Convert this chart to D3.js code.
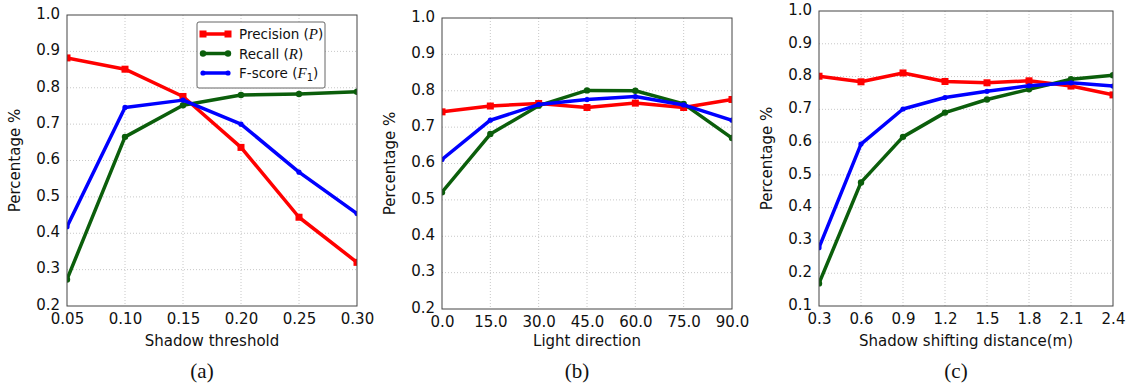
<!DOCTYPE html>
<html>
<head>
<meta charset="utf-8">
<script src="https://cdn.jsdelivr.net/npm/d3@7"></script>
<style>
  body { margin: 0; background: #fff; }
  svg { display: block; }
  .tick text { font-family: "DejaVu Sans", sans-serif; }
</style>
</head>
<body>
<svg id="chart" width="1128" height="389"></svg>
<script>
// (a) shadow threshold
var thresholds = [0.05, 0.10, 0.15, 0.20, 0.25, 0.30]
var thresholdLabels = ["0.05", "0.10", "0.15", "0.20", "0.25", "0.30"]
var precisionA = [0.882, 0.851, 0.776, 0.636, 0.444, 0.320]
var recallA = [0.273, 0.665, 0.752, 0.780, 0.783, 0.789]
var fscoreA = [0.418, 0.746, 0.766, 0.700, 0.568, 0.454]

// (b) light direction
var directions = [0, 15, 30, 45, 60, 75, 90]
var directionLabels = ["0.0", "15.0", "30.0", "45.0", "60.0", "75.0", "90.0"]
var precisionB = [0.742, 0.758, 0.765, 0.754, 0.766, 0.754, 0.776]
var recallB = [0.521, 0.681, 0.759, 0.801, 0.800, 0.764, 0.670]
var fscoreB = [0.611, 0.719, 0.762, 0.776, 0.784, 0.761, 0.719]

// (c) shadow shifting distance
var distances = [0.3, 0.6, 0.9, 1.2, 1.5, 1.8, 2.1, 2.4]
var distanceLabels = ["0.3", "0.6", "0.9", "1.2", "1.5", "1.8", "2.1", "2.4"]
var precisionC = [0.801, 0.784, 0.811, 0.785, 0.781, 0.787, 0.771, 0.744]
var recallC = [0.169, 0.477, 0.616, 0.690, 0.730, 0.761, 0.792, 0.804]
var fscoreC = [0.278, 0.594, 0.701, 0.736, 0.755, 0.772, 0.781, 0.771]

var yTicksAB = [0.2, 0.3, 0.4, 0.5, 0.6, 0.7, 0.8, 0.9, 1.0]
var yTicksC = [0.1, 0.2, 0.3, 0.4, 0.5, 0.6, 0.7, 0.8, 0.9, 1.0]

var seriesNames = ["Precision", "Recall", "F-score"]
var seriesColors = ["#ff0000", "#0b5e0b", "#0000ff"]

var svg = d3.select("#chart")

var panels = [
  {box: {left: 67, right: 357, top: 15, bottom: 306}, xs: thresholds, xLabels: thresholdLabels,
   yDomain: [0.2, 1.0], yTicks: yTicksAB, series: [precisionA, recallA, fscoreA],
   xTitle: "Shadow threshold", caption: "(a)", legend: true},
  {box: {left: 442, right: 732, top: 18, bottom: 309}, xs: directions, xLabels: directionLabels,
   yDomain: [0.2, 1.0], yTicks: yTicksAB, series: [precisionB, recallB, fscoreB],
   xTitle: "Light direction", caption: "(b)", legend: false},
  {box: {left: 819, right: 1113, top: 11, bottom: 306}, xs: distances, xLabels: distanceLabels,
   yDomain: [0.1, 1.0], yTicks: yTicksC, series: [precisionC, recallC, fscoreC],
   xTitle: "Shadow shifting distance(m)", caption: "(c)", legend: false}
]

function drawMarker(g, kind, cx, cy, color) {
  if (kind === 0) {
    g.append("rect").attr("x", cx - 3.5).attr("y", cy - 3.5).attr("width", 7).attr("height", 7)
      .attr("fill", color)
  } else {
    g.append("circle").attr("cx", cx).attr("cy", cy).attr("r", kind === 1 ? 3.2 : 2.6)
      .attr("fill", color)
  }
}

panels.forEach(function(p) {
  var b = p.box
  var x = d3.scaleLinear().domain(d3.extent(p.xs)).range([b.left, b.right])
  var y = d3.scaleLinear().domain(p.yDomain).range([b.bottom, b.top])
  var g = svg.append("g")

  // grid
  g.append("g").selectAll("line").data(p.xs.slice(1, -1)).join("line")
    .attr("x1", d => x(d)).attr("x2", d => x(d)).attr("y1", b.top).attr("y2", b.bottom)
    .attr("stroke", "#c8c8c8").attr("stroke-width", 1).attr("stroke-dasharray", "1,2")
  g.append("g").selectAll("line").data(p.yTicks.slice(1, -1)).join("line")
    .attr("x1", b.left).attr("x2", b.right).attr("y1", d => y(d)).attr("y2", d => y(d))
    .attr("stroke", "#c8c8c8").attr("stroke-width", 1).attr("stroke-dasharray", "1,2")

  // axes
  var xAxis = d3.axisBottom(x).tickValues(p.xs).tickFormat((d, i) => p.xLabels[i])
    .tickSize(0).tickPadding(7)
  var yAxis = d3.axisLeft(y).tickValues(p.yTicks).tickFormat(d3.format(".1f"))
    .tickSize(0).tickPadding(7)
  var gx = g.append("g").attr("transform", `translate(0,${b.bottom})`).call(xAxis)
  var gy = g.append("g").attr("transform", `translate(${b.left},0)`).call(yAxis)
  gx.select(".domain").remove()
  gy.select(".domain").remove()
  gx.selectAll("text").attr("font-size", 15).attr("fill", "#111")
  gy.selectAll("text").attr("font-size", 15).attr("fill", "#111").attr("dy", "0.22em")

  // lines
  var clip = "clip" + p.caption.replace(/\W/g, "")
  svg.append("clipPath").attr("id", clip).append("rect")
    .attr("x", b.left).attr("y", b.top).attr("width", b.right - b.left).attr("height", b.bottom - b.top)
  var lines = g.append("g").attr("clip-path", `url(#${clip})`)
  p.series.forEach(function(vals, si) {
    var line = d3.line().x((d, i) => x(p.xs[i])).y(d => y(d))
    lines.append("path").datum(vals)
      .attr("fill", "none")
      .attr("stroke", seriesColors[si])
      .attr("stroke-width", 3.5)
      .attr("stroke-linejoin", "round")
      .attr("d", line)
    vals.forEach(function(v, i) { drawMarker(lines, si, x(p.xs[i]), y(v), seriesColors[si]) })
  })

  // frame
  g.append("rect").attr("x", b.left).attr("y", b.top)
    .attr("width", b.right - b.left).attr("height", b.bottom - b.top)
    .attr("fill", "none").attr("stroke", "#444").attr("stroke-width", 1)

  // titles
  var cx = (b.left + b.right) / 2
  g.append("text").attr("x", cx).attr("y", 346).attr("text-anchor", "middle")
    .attr("font-family", "DejaVu Sans, sans-serif").attr("font-size", 15).attr("fill", "#111")
    .text(p.xTitle)
  g.append("text")
    .attr("transform", `translate(${b.left - 47},${(b.top + b.bottom) / 2}) rotate(-90)`)
    .attr("text-anchor", "middle")
    .attr("font-family", "DejaVu Sans, sans-serif").attr("font-size", 15).attr("fill", "#111")
    .text("Percentage %")
  g.append("text").attr("x", cx - 10).attr("y", 378).attr("text-anchor", "middle")
    .attr("font-family", "Liberation Serif, serif").attr("font-size", 21).attr("fill", "#111")
    .text(p.caption)

  if (p.legend) {
    var lg = g.append("g").attr("transform", "translate(197,22)")
    lg.append("rect").attr("width", 128).attr("height", 66).attr("rx", 2)
      .attr("fill", "#fff").attr("stroke", "#666").attr("stroke-width", 1)
    var sym = ["P", "R", "F"]
    seriesNames.forEach(function(name, i) {
      var ly = 12 + i * 19.5
      lg.append("line").attr("x1", 6).attr("x2", 31).attr("y1", ly).attr("y2", ly)
        .attr("stroke", seriesColors[i]).attr("stroke-width", 3.5)
      drawMarker(lg, i, 6, ly, seriesColors[i])
      drawMarker(lg, i, 31, ly, seriesColors[i])
      var t = lg.append("text").attr("x", 42).attr("y", ly + 5)
        .attr("font-family", "DejaVu Sans, sans-serif").attr("font-size", 13.5).attr("fill", "#111")
      t.append("tspan").text(name + " (")
      t.append("tspan").attr("font-family", "Liberation Serif, serif").attr("font-style", "italic")
        .attr("font-size", 15).text(sym[i])
      if (i === 2) t.append("tspan").attr("font-size", 10).attr("dy", 3).text("1")
      t.append("tspan").attr("dy", i === 2 ? -3 : 0).text(")")
    })
  }
})
</script>
</body>
</html>
